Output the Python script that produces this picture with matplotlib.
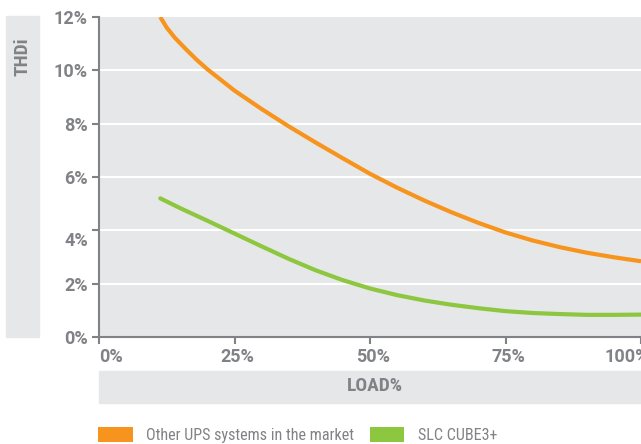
import matplotlib
matplotlib.use("Agg")
import matplotlib.pyplot as plt
from matplotlib.patches import Rectangle, Patch
from matplotlib.transforms import ScaledTranslation
from matplotlib import font_manager

names = {f.name for f in font_manager.fontManager.ttflist}
FONT = "Roboto Condensed" if "Roboto Condensed" in names else "DejaVu Sans"
TICKFONT = "Roboto" if "Roboto" in names else FONT
plt.rcParams["font.family"] = [FONT, "DejaVu Sans"]

# ---- data ----
load_other = [11.3, 12.5, 14, 16, 18, 20, 25, 30, 35, 40, 45, 50, 55, 60, 65, 70, 75,
              80, 85, 90, 95, 100]
thdi_other = [12.0, 11.6, 11.22, 10.8, 10.40, 10.04, 9.24, 8.55, 7.90, 7.29, 6.70, 6.12,
              5.6, 5.12, 4.68, 4.28, 3.92, 3.62, 3.37, 3.16, 2.99, 2.84]
load_slc = [11.3, 15, 20, 25, 30, 35, 40, 45, 50, 55, 60, 65, 70, 75, 80, 85, 90, 95, 100]
thdi_slc = [5.2, 4.83, 4.36, 3.88, 3.40, 2.93, 2.50, 2.13, 1.82, 1.57, 1.37, 1.21, 1.08,
            0.97, 0.90, 0.86, 0.83, 0.83, 0.84]
x_ticks = [0, 25, 50, 75, 100]
x_labels = ["0%", "25%", "50%", "75%", "100%"]
y_ticks = [0, 2, 4, 6, 8, 10, 12]
y_labels = ["0%", "2%", "4%", "6%", "8%", "10%", "12%"]
series_names = ["Other UPS systems in the market", "SLC CUBE3+"]

ORANGE = "#f7941d"
GREEN = "#8dc63f"
BG = "#e6e7e8"
TXT = "#808285"

W, H = 641, 444
fig = plt.figure(figsize=(W / 100, H / 100), dpi=100)

def fx(px):
    return px / W

def fy(py):
    return 1 - py / H

ax = fig.add_axes([fx(99), fy(337), fx(641) - fx(99), fy(17) - fy(337)])
ax.set_facecolor(BG)
ax.set_xlim(0, 100)
ax.set_ylim(0, 12)

for yv in y_ticks[1:-1]:
    ax.axhline(yv, color="white", lw=1.5, zorder=1)

ax.plot(load_other, thdi_other, color=ORANGE, lw=3, solid_capstyle="butt",
        solid_joinstyle="round", zorder=3)
ax.plot(load_slc, thdi_slc, color=GREEN, lw=3, solid_capstyle="round",
        solid_joinstyle="round", zorder=3)

for s in ["top", "right"]:
    ax.spines[s].set_visible(False)
for s in ["left", "bottom"]:
    ax.spines[s].set_color(TXT)
    ax.spines[s].set_linewidth(1.5)
    ax.spines[s].set_zorder(4)

ax.set_xticks(x_ticks)
ax.set_xticklabels(x_labels)
ax.set_yticks(y_ticks)
ax.set_yticklabels(y_labels)
ax.tick_params(axis="both", direction="out", length=5, width=1.5, color=TXT,
               labelcolor=TXT, labelsize=13)
ax.tick_params(axis="y", pad=3)
ax.tick_params(axis="x", pad=3)
for lab in ax.get_xticklabels() + ax.get_yticklabels():
    lab.set_fontweight("bold")
    lab.set_family([TICKFONT, "DejaVu Sans"])

xl = ax.get_xticklabels()
xl[0].set_ha("left")
xl[-1].set_ha("left")
xl[-1].set_transform(xl[-1].get_transform() + ScaledTranslation(-37 / 100, 0, fig.dpi_scale_trans))
for lab in xl[1:4]:
    lab.set_transform(lab.get_transform() + ScaledTranslation(3 / 100, 0, fig.dpi_scale_trans))
yl = ax.get_yticklabels()
yl[2].set_transform(yl[2].get_transform() + ScaledTranslation(0, -9 / 100, fig.dpi_scale_trans))

# side band for y title
fig.patches.append(Rectangle((fx(6), fy(337)), fx(39) - fx(6), fy(16) - fy(337),
                             transform=fig.transFigure, color=BG, zorder=0))
fig.text(fx(22.5), fy(57), "THDi", rotation=90, ha="center", va="center",
         color=TXT, fontsize=14, fontweight="bold")

# bottom band for x title
fig.patches.append(Rectangle((fx(99), fy(403)), fx(641) - fx(99), fy(371) - fy(403),
                             transform=fig.transFigure, color=BG, zorder=0))
fig.text(fx(375), fy(386), "LOAD%", ha="center", va="center",
         color=TXT, fontsize=14, fontweight="bold")

handles = [Patch(facecolor=ORANGE, edgecolor="none"), Patch(facecolor=GREEN, edgecolor="none")]
fig.legend(handles, series_names, loc="lower left", bbox_to_anchor=(fx(98), fy(443)),
           ncol=2, frameon=False, fontsize=11.6, labelcolor=TXT,
           handlelength=2.15, handleheight=1.08, handletextpad=0.85, columnspacing=0.95,
           borderpad=0, borderaxespad=0)

fig.savefig("out.png", dpi=100)
